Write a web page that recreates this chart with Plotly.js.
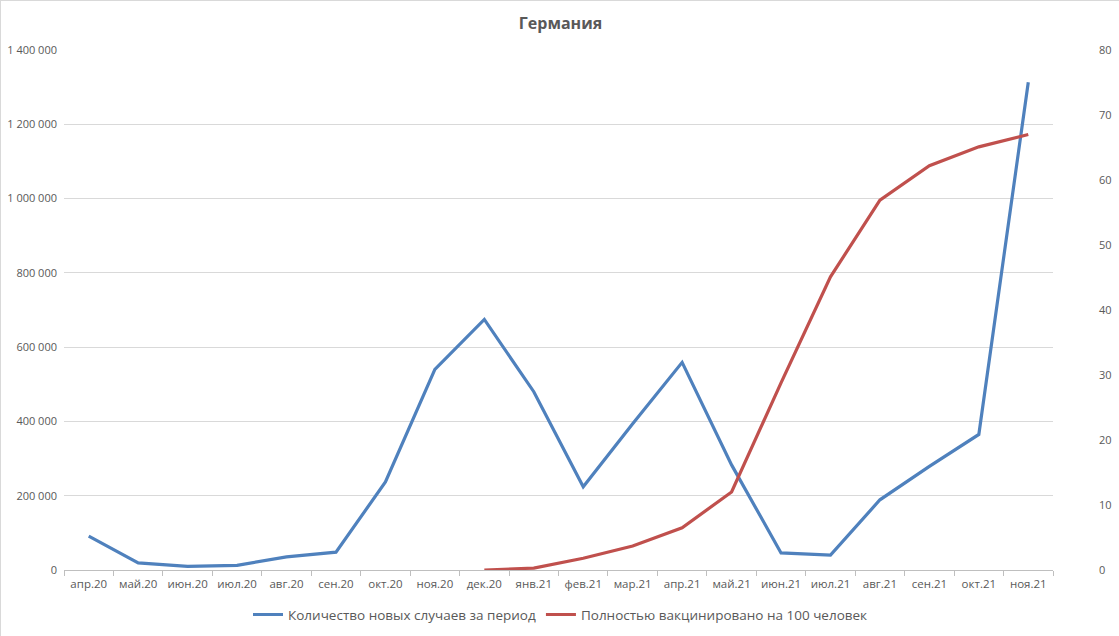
<!DOCTYPE html>
<html><head><meta charset="utf-8">
<script src="https://cdn.plot.ly/plotly-3.0.1.min.js"></script>
<style>html,body{margin:0;padding:0;background:#fff}#chart{width:1119px;height:636px;box-sizing:border-box;border:1px solid #d9d9d9}</style>
</head><body><div id="chart"></div>
<script>
const months = ["апр.20","май.20","июн.20","июл.20","авг.20","сен.20","окт.20","ноя.20","дек.20","янв.21","фев.21","мар.21","апр.21","май.21","июн.21","июл.21","авг.21","сен.21","окт.21","ноя.21"];
const newCases = [91000,19000,9600,12500,35500,48000,237000,540000,674500,480000,224000,394000,559000,283000,46000,40000,189000,279000,365000,1313000];
const vaccinated = [null,null,null,null,null,null,null,null,0,0.3,1.8,3.7,6.5,12.0,28.8,45.1,56.9,62.2,65.1,67.0];
const seriesNames = ["Количество новых случаев за период","Полностью вакцинировано на 100 человек"];

const tickFont = {family:"Open Sans, Liberation Sans, sans-serif", size:11, color:"#595959"};
const data = [
  {x:months, y:newCases, name:seriesNames[0], type:"scatter", mode:"lines", line:{color:"#4F81BD", width:3.2}, yaxis:"y"},
  {x:months, y:vaccinated, name:seriesNames[1], type:"scatter", mode:"lines", line:{color:"#C0504D", width:3.2}, yaxis:"y2", connectgaps:false}
];
const layout = {
  width:1119, height:636,
  margin:{l:63, r:67, t:49, b:67},
  paper_bgcolor:"#fff", plot_bgcolor:"#fff",
  separators:", ",
  title:{text:"<b>Германия</b>", x:0.5, xanchor:"center", y:0.965, yanchor:"middle", font:{family:"Open Sans, Liberation Sans, sans-serif", size:16, color:"#595959"}},
  xaxis:{type:"category", tickfont:{family:"Open Sans, Liberation Sans, sans-serif", size:11.5, color:"#595959"}, showgrid:false, showline:true, linecolor:"#bfbfbf", linewidth:1, automargin:false,
         ticks:"outside", tickson:"boundaries", ticklen:5, tickcolor:"#bfbfbf", range:[-0.5,19.5], fixedrange:true, ticklabelstandoff:3},
  yaxis:{range:[0,1400000], dtick:200000, tickformat:",", tickfont:tickFont, gridcolor:"#d9d9d9", gridwidth:1, automargin:false,
         zeroline:false, showline:false, ticks:"", ticklabelstandoff:6},
  yaxis2:{range:[0,80], dtick:10, overlaying:"y", side:"right", showgrid:false, zeroline:false, showline:false, automargin:false,
          tickfont:tickFont, ticks:"", ticklabelstandoff:45},
  legend:{orientation:"h", x:0.5, xanchor:"center", xref:"container", y:0.035, yref:"container", yanchor:"middle",
          font:{family:"Open Sans, Liberation Sans, sans-serif", size:13.5, color:"#595959"}, traceorder:"normal"},
  showlegend:true
};
Plotly.newPlot("chart", data, layout, {displayModeBar:false, staticPlot:true});
</script></body></html>
